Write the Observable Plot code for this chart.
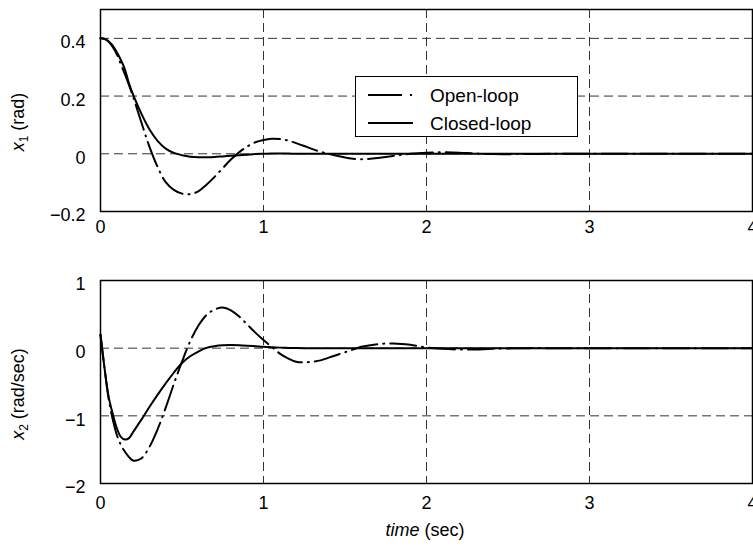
<!DOCTYPE html>
<html><head><meta charset="utf-8">
<script src="https://cdn.jsdelivr.net/npm/d3@7"></script>
<script src="https://cdn.jsdelivr.net/npm/@observablehq/plot@0.6"></script>
<style>
body{margin:0;background:#fff;}
#chart svg{display:block;}
</style>
</head><body><div id="chart"></div>
<script>
// sample times (sec)
const time = [0,0.025,0.05,0.075,0.1,0.125,0.15,0.175,0.2,0.25,0.3,0.35,0.4,0.45,0.5,0.55,0.6,0.65,0.7,0.75,0.8,0.85,0.9,0.95,1.0,1.05,1.1,1.15,1.2,1.25,1.3,1.35,1.4,1.45,1.5,1.55,1.6,1.7,1.8,1.9,2.0,2.1,2.2,2.3,2.4,2.6,2.8,3.0,3.5,4.0];

// x1 (rad)
const x1Open = [0.4,0.398,0.388,0.37,0.345,0.31,0.275,0.238,0.198,0.11,0.025,-0.045,-0.098,-0.125,-0.138,-0.14,-0.13,-0.107,-0.08,-0.05,-0.02,0.005,0.025,0.04,0.048,0.052,0.051,0.046,0.037,0.027,0.016,0.007,0.0,-0.007,-0.013,-0.017,-0.019,-0.015,-0.007,0.0,0.004,0.005,0.004,0.001,-0.001,-0.001,0,0,0,0];
const x1Closed = [0.4,0.398,0.39,0.375,0.352,0.325,0.292,0.243,0.205,0.14,0.085,0.045,0.018,0.003,-0.005,-0.01,-0.012,-0.012,-0.011,-0.009,-0.007,-0.005,-0.003,-0.001,0,0.001,0.001,0.001,0,0,0,0,0,0,0,0,0,0,0,0,0,0,0,0,0,0,0,0,0,0];

// x2 (rad/sec)
const x2Open = [0.2,-0.3,-0.75,-1.05,-1.28,-1.43,-1.53,-1.61,-1.66,-1.63,-1.46,-1.2,-0.88,-0.53,-0.2,0.1,0.33,0.49,0.57,0.6,0.56,0.47,0.35,0.23,0.12,0.02,-0.08,-0.15,-0.2,-0.21,-0.2,-0.18,-0.14,-0.1,-0.06,-0.02,0.02,0.06,0.07,0.05,0.01,-0.01,-0.02,-0.02,-0.01,0,0,0,0,0];
const x2Closed = [0.2,-0.3,-0.72,-0.97,-1.18,-1.31,-1.35,-1.33,-1.24,-1.06,-0.87,-0.69,-0.52,-0.36,-0.22,-0.12,-0.05,0.005,0.03,0.042,0.045,0.043,0.037,0.029,0.02,0.014,0.008,0.004,0.001,0,0,0,0,0,0,0,0,0,0,0,0,0,0,0,0,0,0,0,0,0];

const seriesNames = ["Open-loop","Closed-loop"];
const xTicks = [0,1,2,3,4];
const x1Ticks = [-0.2,0,0.2,0.4];
const x2Ticks = [-2,-1,0,1];

const rows = vals => time.map((t,i) => ({t, v: vals[i]}));
const fmt = d => d === 0 ? "0" : String(d).replace("-", "\u2212");
const FONT = "'Liberation Sans', Arial, Helvetica, sans-serif";
const openDash = "26,6,1,6";
const gridStyle = {stroke:"#333", strokeOpacity:1, strokeWidth:1, strokeDasharray:"9,5"};

function panel({height, marginTop, marginBottom, yDomain, yTicks, yGrid, open, closed, xPad}) {
  return Plot.plot({
    width: 753, height, marginLeft: 100, marginRight: 1, marginTop, marginBottom,
    style: {fontFamily: FONT, fontSize: "18px", color: "black", background: "white"},
    x: {domain: [0,4]},
    y: {domain: yDomain},
    marks: [
      Plot.gridX([1,2,3], gridStyle),
      Plot.gridY(yGrid, gridStyle),
      Plot.line(rows(open), {x:"t", y:"v", curve:"catmull-rom", stroke:"black", strokeWidth:2, strokeDasharray: openDash}),
      Plot.line(rows(closed), {x:"t", y:"v", curve:"catmull-rom", stroke:"black", strokeWidth:2}),
      Plot.frame({stroke:"black", strokeWidth:1.5}),
      Plot.axisX({ticks: xTicks, tickSize: 0, tickPadding: xPad, label: null, tickFormat: fmt, fontSize: 18}),
      Plot.axisY({ticks: yTicks, tickSize: 0, tickPadding: 15, label: null, tickFormat: fmt, dy: 4, fontSize: 18})
    ]
  });
}

const topSvg = panel({height: 241, marginTop: 9, marginBottom: 30, yDomain: [-0.2,0.5], yTicks: x1Ticks, yGrid: [0,0.2,0.4], open: x1Open, closed: x1Closed, xPad: 9});
const botSvg = panel({height: 306, marginTop: 39, marginBottom: 64, yDomain: [-2,1], yTicks: x2Ticks, yGrid: [-1,0], open: x2Open, closed: x2Closed, xPad: 13});

function yLabel(svg, cy, sub, unit) {
  const t = d3.select(svg).append("text")
    .attr("transform", `translate(24,${cy}) rotate(-90)`)
    .attr("text-anchor", "middle")
    .attr("font-family", FONT).attr("font-size", 18).attr("fill", "black");
  t.append("tspan").attr("font-style", "italic").text("x");
  t.append("tspan").attr("font-size", 12).attr("dy", 4).text(sub);
  t.append("tspan").attr("dy", -4).text(" " + unit);
}
yLabel(topSvg, 122, "1", "(rad)");
yLabel(botSvg, 394 - 241, "2", "(rad/sec)");

// x axis title
const xt = d3.select(botSvg).append("text")
  .attr("x", 425).attr("y", 295).attr("text-anchor", "middle")
  .attr("font-family", FONT).attr("font-size", 18).attr("fill", "black");
xt.append("tspan").attr("font-style", "italic").text("time");
xt.append("tspan").text(" (sec)");

// legend
const lg = d3.select(topSvg).append("g");
lg.append("rect").attr("x", 355.5).attr("y", 76.5).attr("width", 222).attr("height", 60)
  .attr("fill", "white").attr("stroke", "black").attr("stroke-width", 1);
const legY = [95, 123];
seriesNames.forEach((name, i) => {
  lg.append("line").attr("x1", 368).attr("x2", 413).attr("y1", legY[i]).attr("y2", legY[i])
    .attr("stroke", "black").attr("stroke-width", 2)
    .attr("stroke-dasharray", i === 0 ? "34,8,2,20" : null);
  lg.append("text").attr("x", 430).attr("y", legY[i] + 7)
    .attr("text-anchor", "start")
    .attr("font-family", FONT).attr("font-size", 19).attr("fill", "black").text(name);
});

document.getElementById("chart").append(topSvg, botSvg);
</script>
</body></html>
